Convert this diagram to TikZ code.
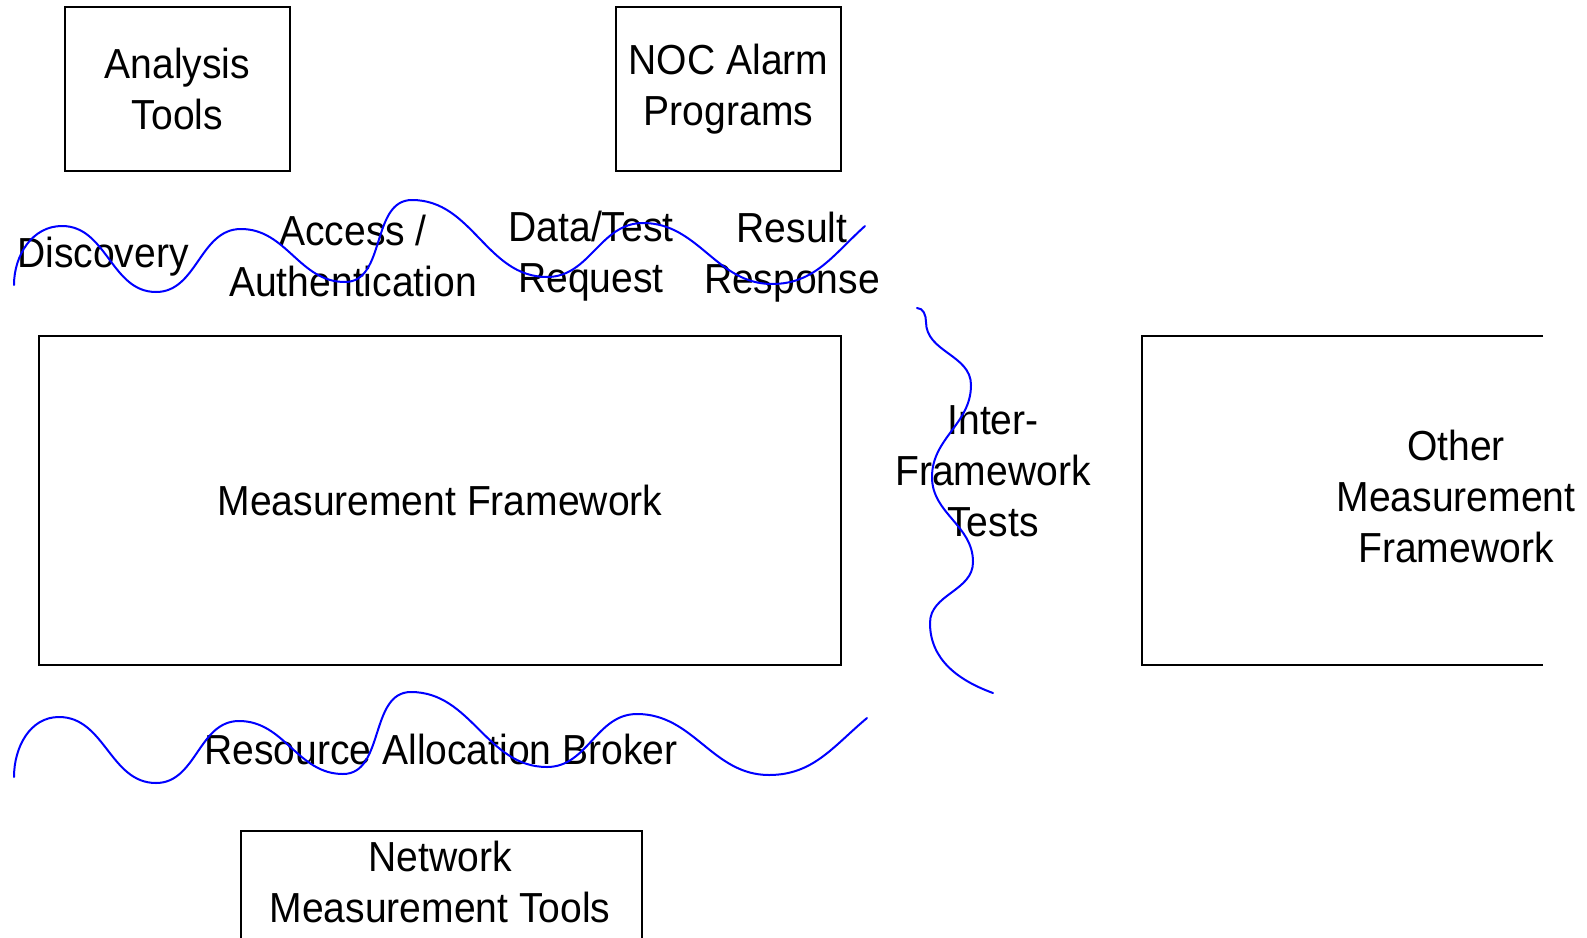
\documentclass[tikz,border=0pt]{standalone}
\usepackage{fontspec}
\setmainfont{Liberation Sans}[FakeStretch=0.93]
\begin{document}
\begin{tikzpicture}[x=1pt,y=1pt,
  boxline/.style={draw=black,line width=1.7pt},
  tbox/.style={boxline,inner sep=0pt,align=center,font=\fontsize{42}{51}\selectfont},
  lbl/.style={inner sep=0pt,align=center,font=\fontsize{42}{51}\selectfont},
  wave/.style={draw=blue,line width=2pt,line cap=round}]
\useasboundingbox (0,0) rectangle (1587,-937);

% boxes
\node[tbox,minimum width=225,minimum height=164] (analysis) at (177.5,-89) {Analysis\\Tools};
\node[tbox,minimum width=225,minimum height=164] (noc) at (728.5,-89) {NOC Alarm\\Programs};
\node[tbox,minimum width=802,minimum height=329] (mf) at (440,-500.5) {Measurement Framework};

% other framework, open on the right
\coordinate (oTR) at (1543,-336);
\coordinate (oTL) at (1142,-336);
\coordinate (oBL) at (1142,-665);
\coordinate (oBR) at (1543,-665);
\draw[boxline] (oTR) -- (oTL) -- (oBL) -- (oBR);
\node[lbl] (other) at (1456,-496) {Other\\Measurement\\Framework};

% network tools, running off the bottom
\coordinate (nBL) at (241,-940);
\coordinate (nTL) at (241,-831);
\coordinate (nTR) at (642,-831);
\coordinate (nBR) at (642,-940);
\draw[boxline] (nBL) -- (nTL) -- (nTR) -- (nBR);
\node[lbl] (nmt) at (440,-882) {Network\\Measurement Tools};

% interface labels
\node[lbl] (disc) at (103,-257) {Discovery};
\node[lbl] (auth) at (353,-256) {Access /\\Authentication};
\node[lbl] (req) at (591,-256) {Data/Test\\Request};
\node[lbl] (resp) at (792,-257) {Result\\Response};
\node[lbl] (inter) at (993,-471) {Inter-\\Framework\\Tests};
\node[lbl] (rab) at (441,-749) {Resource Allocation Broker};

% upper interface wave
\draw[wave] (14,-285) to[out=90,in=180] (62,-226) to[out=0,in=180] (156,-292)
  to[out=0,in=180] (241,-229) to[out=0,in=180] (345,-282)
  to[out=0,in=180] (412,-200) to[out=0,in=180] (547,-277)
  to[out=0,in=180] (643,-223) to[out=0,in=180] (772,-284)
  to[out=0,in=222] (865,-226);

% lower interface wave
\draw[wave] (14,-777) to[out=90,in=180] (59,-717) to[out=0,in=180] (156,-783)
  to[out=0,in=180] (239,-721) to[out=0,in=180] (343,-774)
  to[out=0,in=180] (411,-692) to[out=0,in=180] (547,-767)
  to[out=0,in=180] (637,-714) to[out=0,in=180] (769,-775)
  to[out=0,in=220] (867,-718);

% inter-framework wave
\draw[wave] (917,-308) to[out=0,in=90] (926,-322) to[out=-90,in=90] (971,-385)
  to[out=-90,in=90] (932,-477) to[out=-90,in=90] (973,-562)
  to[out=-90,in=90] (930,-623) to[out=-90,in=160] (993,-693);
\end{tikzpicture}
\end{document}
